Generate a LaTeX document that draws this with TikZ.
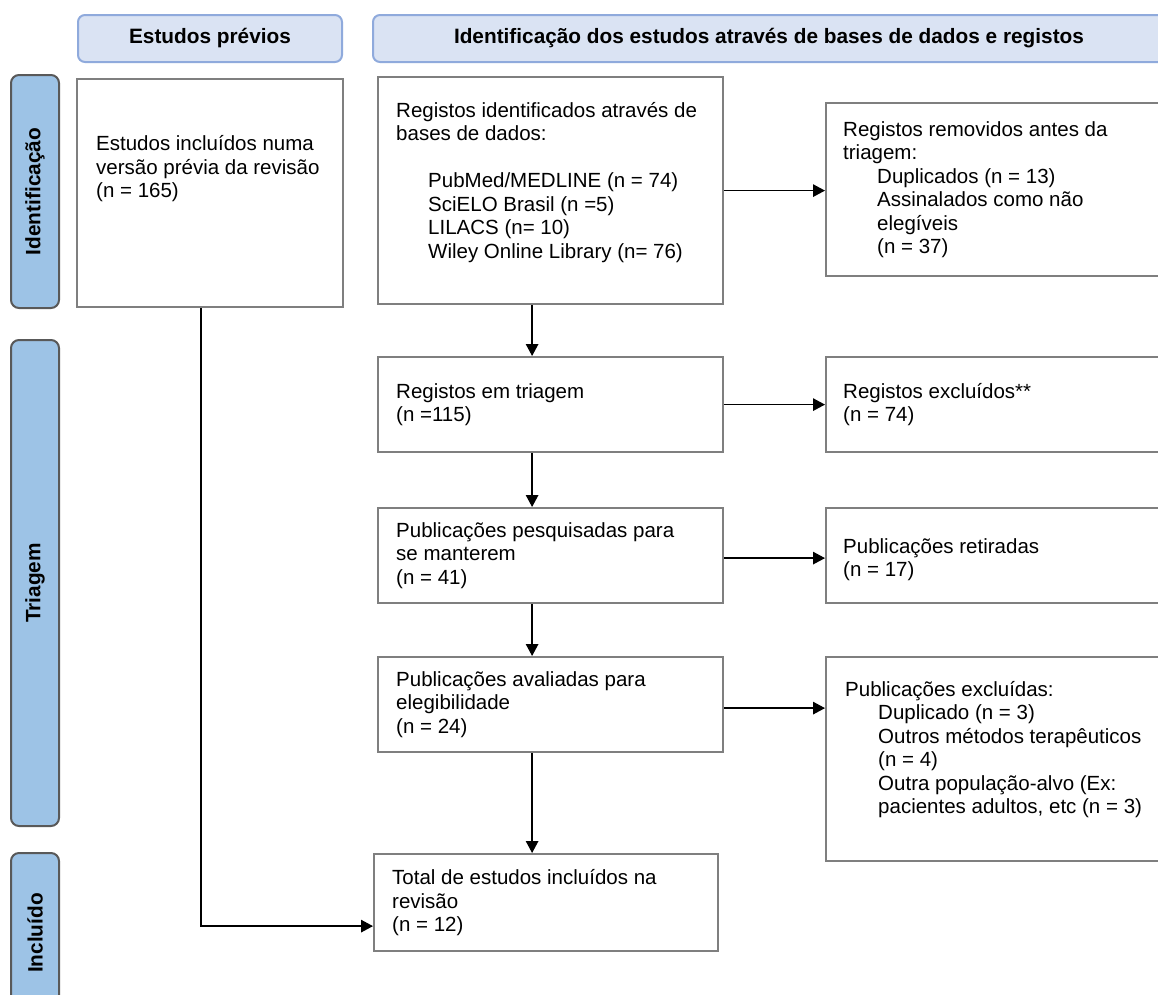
\documentclass[tikz,border=0pt]{standalone}
\usepackage{fontspec}
\setmainfont{Liberation Sans}
\usetikzlibrary{arrows.meta}
\definecolor{hdrfill}{HTML}{DAE3F3}
\definecolor{hdrline}{HTML}{8FAADC}
\definecolor{barfill}{HTML}{9DC3E6}
\definecolor{barline}{HTML}{595959}
\definecolor{boxline}{HTML}{7F7F7F}
\begin{document}
\begin{tikzpicture}[x=1pt,y=-1pt,
  hdr/.style={draw=hdrline, fill=hdrfill, line width=2pt, rounded corners=7pt, inner sep=0pt,
              font=\bfseries\fontsize{20.8}{23}\selectfont},
  bar/.style={draw=barline, fill=barfill, line width=2pt, rounded corners=8pt, inner sep=0pt,
              rotate=90, font=\bfseries\fontsize{20.8}{23}\selectfont},
  flowbox/.style={draw=boxline, line width=2.2pt, inner sep=0pt, anchor=north west},
  boxtxt/.style={anchor=west, inner sep=0pt, align=left, font=\fontsize{20.5}{23.5}\selectfont},
  conn/.style={line width=1.4pt, -{Triangle[length=12pt,width=12.5pt]}}
]
\useasboundingbox (0,0) rectangle (1158,994);
\fill[white] (0,0) rectangle (1158,994);

% headers
\node[hdr, minimum width=264pt, minimum height=47pt] (hdrA) at (210,38.5) {Estudos prévios};
\node[hdr, minimum width=792pt, minimum height=47pt] (hdrB) at (769,38.5) {Identificação dos estudos através de bases de dados e registos};

% side bars
\node[bar, minimum width=233pt, minimum height=48pt] (barId) at (35,191.5) {Identificação};
\node[bar, minimum width=486pt, minimum height=48pt] (barTr) at (35,583) {Triagem};
\node[bar, minimum width=160pt, minimum height=48pt] (barIn) at (35,933) {Incluído};

% boxes
\node[flowbox, minimum width=266pt, minimum height=228pt] (prev) at (76,78) {};
\node[flowbox, minimum width=345pt, minimum height=227pt] (ident) at (377,76) {};
\node[flowbox, minimum width=340pt, minimum height=173pt] (removed) at (825,102) {};
\node[flowbox, minimum width=345pt, minimum height=95pt] (tri) at (377,356) {};
\node[flowbox, minimum width=340pt, minimum height=95pt] (excl) at (825,356) {};
\node[flowbox, minimum width=345pt, minimum height=95pt] (pesq) at (377,507) {};
\node[flowbox, minimum width=340pt, minimum height=95pt] (retir) at (825,507) {};
\node[flowbox, minimum width=345pt, minimum height=95pt] (aval) at (377,656) {};
\node[flowbox, minimum width=340pt, minimum height=204pt] (exclu) at (825,656) {};
\node[flowbox, minimum width=344pt, minimum height=97pt] (total) at (373,853) {};

% texts
\node[boxtxt] (prevt) at ([xshift=20pt,yshift=24.5pt]prev.west)
  {Estudos incluídos numa\\versão prévia da revisão\\(n = 165)};
\node[boxtxt] (identt) at ([xshift=19pt,yshift=8.5pt]ident.west)
  {Registos identificados através de\\bases de dados:\\[23.5pt]
   \hspace*{32pt}PubMed/MEDLINE (n = 74)\\
   \hspace*{32pt}SciELO Brasil (n =5)\\
   \hspace*{32pt}LILACS (n= 10)\\
   \hspace*{32pt}Wiley Online Library (n= 76)};
\node[boxtxt] (removedt) at ([xshift=18pt]removed.west)
  {Registos removidos antes da\\triagem:\\
   \hspace*{34pt}Duplicados (n = 13)\\
   \hspace*{34pt}Assinalados como não\\
   \hspace*{34pt}elegíveis\\
   \hspace*{34pt}(n = 37)};
\node[boxtxt] (trit) at ([xshift=19pt]tri.west) {Registos em triagem\\(n =115)};
\node[boxtxt] (exclt) at ([xshift=18pt]excl.west) {Registos excluídos**\\(n = 74)};
\node[boxtxt] (pesqt) at ([xshift=19pt]pesq.west) {Publicações pesquisadas para\\se manterem\\(n = 41)};
\node[boxtxt] (retirt) at ([xshift=18pt,yshift=-4pt]retir.west) {Publicações retiradas\\(n = 17)};
\node[boxtxt] (avalt) at ([xshift=19pt]aval.west) {Publicações avaliadas para\\elegibilidade\\(n = 24)};
\node[boxtxt] (exclut) at ([xshift=20pt,yshift=9.5pt]exclu.west)
  {Publicações excluídas:\\
   \hspace*{33pt}Duplicado (n = 3)\\
   \hspace*{33pt}Outros métodos terapêuticos\\
   \hspace*{33pt}(n = 4)\\
   \hspace*{33pt}Outra população-alvo (Ex:\\
   \hspace*{33pt}pacientes adultos, etc (n = 3)};
\node[boxtxt] (totalt) at ([xshift=19pt]total.west) {Total de estudos incluídos na\\revisão\\(n = 12)};

% connectors
\draw[conn] ([xshift=-18.5pt]ident.south) -- ([xshift=-18.5pt]tri.north);
\draw[conn] ([xshift=-18.5pt]tri.south) -- ([xshift=-18.5pt]pesq.north);
\draw[conn] ([xshift=-18.5pt]pesq.south) -- ([xshift=-18.5pt]aval.north);
\draw[conn] ([xshift=-18.5pt]aval.south) -- ([xshift=-18.5pt]aval.south |- total.north);
\draw[conn] (ident.east) -- (ident.east -| removed.west);
\draw[conn] (tri.east) -- (tri.east -| excl.west);
\draw[conn] ([yshift=-2.5pt]pesq.east) -- ([yshift=-2.5pt]pesq.east -| retir.west);
\draw[conn] ([yshift=-3.5pt]aval.east) -- ([yshift=-3.5pt]aval.east -| exclu.west);
\coordinate (prevout) at ([xshift=-9pt]prev.south);
\draw[conn] (prevout) |- ([yshift=-23.5pt]total.west);
\end{tikzpicture}
\end{document}
